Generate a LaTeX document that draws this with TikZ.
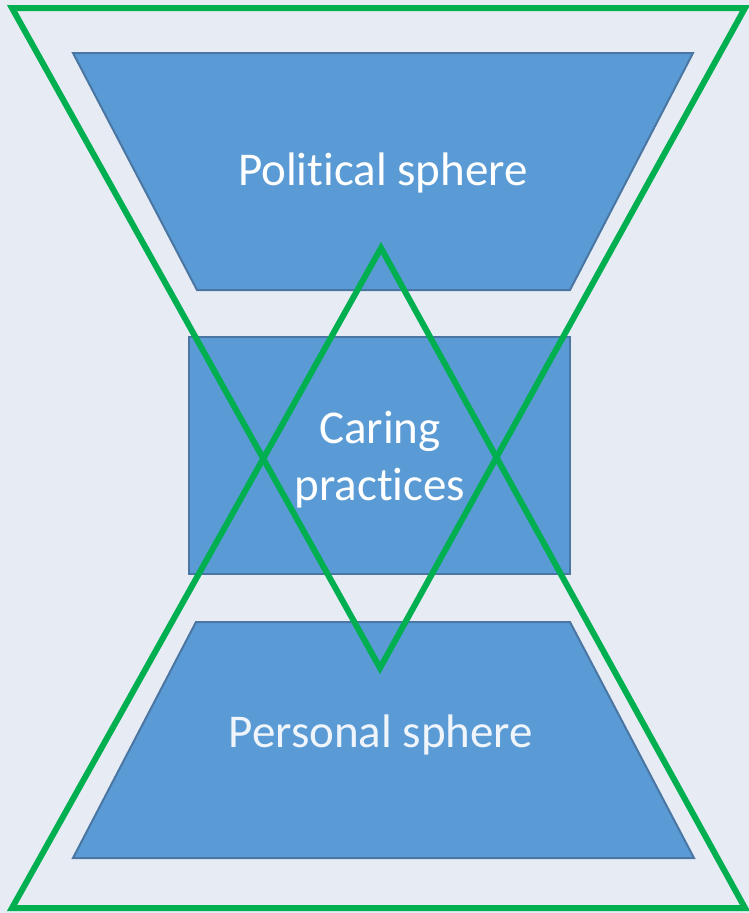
\documentclass[tikz,border=0pt]{standalone}
\usepackage{fontspec}
\setmainfont{Carlito}[Ligatures=NoCommon]
\definecolor{bg}{HTML}{E7EBF4}
\definecolor{boxfill}{HTML}{5B9BD5}
\definecolor{boxline}{HTML}{4A76A3}
\definecolor{grn}{HTML}{00B050}
\begin{document}
\begin{tikzpicture}[x=1pt,y=-1pt,
  blueshape/.style={fill=boxfill,draw=boxline,line width=2pt,line join=miter},
  tri/.style={draw=grn,line width=6pt,line join=miter,miter limit=20},
  lbl/.style={text=white,font=\fontsize{47}{57}\selectfont,align=center,inner sep=0pt}]
\fill[bg] (0,0) rectangle (749,913);
\useasboundingbox (0,0) rectangle (749,913);
% shapes
\draw[blueshape] (73,53) -- (693,53) -- (570,290) -- (197,290) -- cycle;
\draw[blueshape] (189,337) rectangle (570,574);
\draw[blueshape] (196,622) -- (570,622) -- (694,858) -- (73,858) -- cycle;
% star triangles
\draw[tri] (12,8) -- (745,8) -- (380,668) -- cycle;
\draw[tri] (12,908) -- (745,908) -- (381,248) -- cycle;
% labels
\node[lbl] (pol) at (383,173) {Political sphere};
\node[lbl] (car) at (380,460) {Caring\\practices};
\node[lbl,text=white!90!boxfill] (per) at (381,735) {Personal sphere};
\end{tikzpicture}
\end{document}
